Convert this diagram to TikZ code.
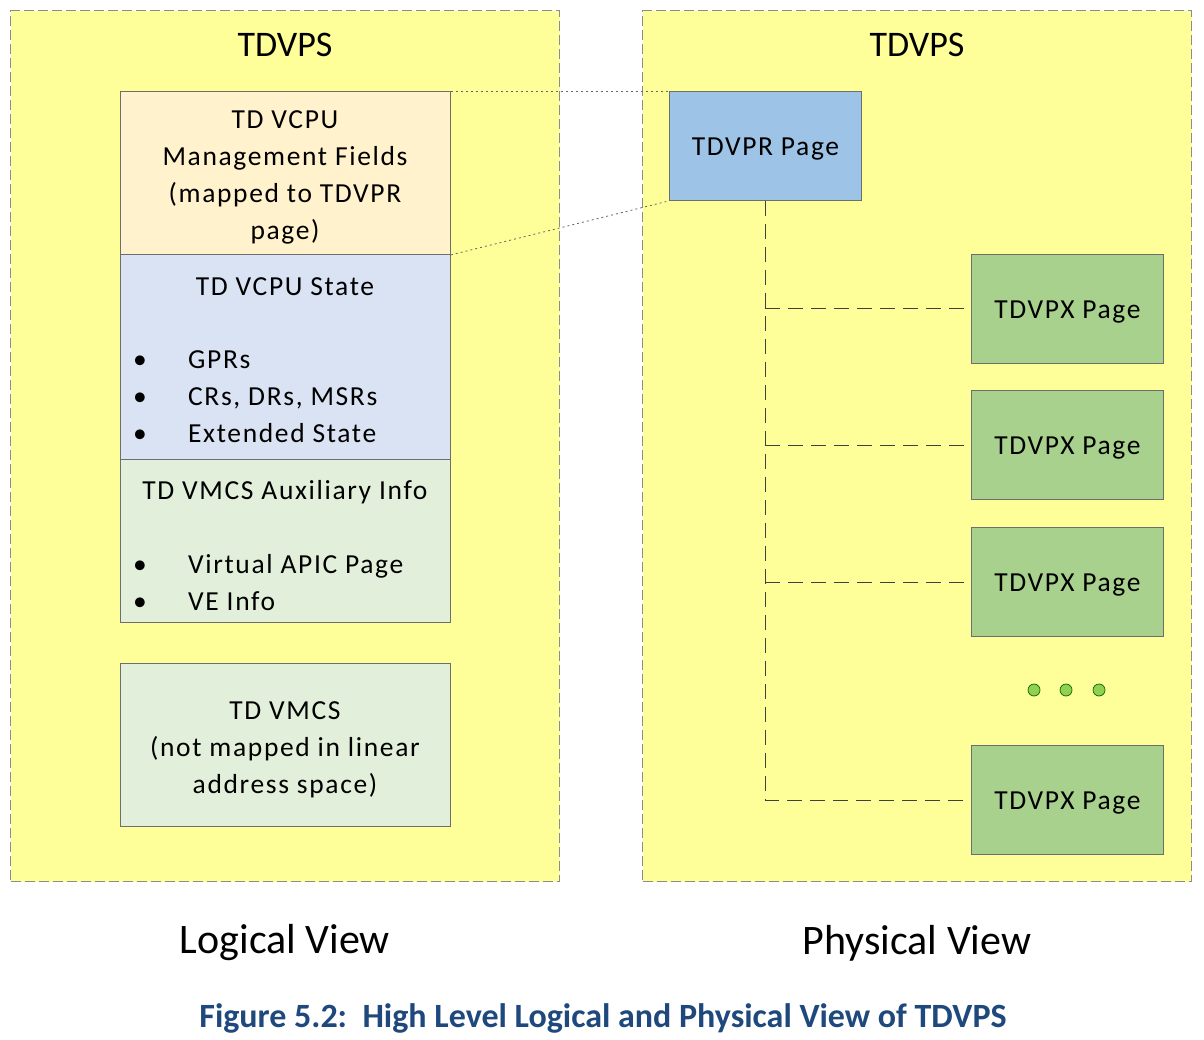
\documentclass[tikz,border=0pt]{standalone}
\usepackage{fontspec}
\setmainfont{Carlito}
\newfontfamily\boxfont[LetterSpace=6]{Carlito}
\definecolor{tdyellow}{HTML}{FFFF99}
\definecolor{contline}{HTML}{8C8C8C}
\definecolor{boxline}{HTML}{6E6E6E}
\definecolor{cmgmt}{HTML}{FFF2CC}
\definecolor{cstate}{HTML}{DAE3F3}
\definecolor{caux}{HTML}{E2EFDA}
\definecolor{ctdvpr}{HTML}{9DC3E6}
\definecolor{ctdvpx}{HTML}{A9D18E}
\definecolor{cdot}{HTML}{92D050}
\definecolor{capblue}{HTML}{1F497D}
\begin{document}
\begin{tikzpicture}[x=1pt,y=-1pt,
  cont/.style={draw=contline, line width=1.2pt, dash pattern=on 10pt off 4pt, fill=tdyellow, anchor=north west, inner sep=0pt, minimum width=549pt, minimum height=871pt},
  pbox/.style={draw=boxline, line width=0.9pt, anchor=north west, inner sep=0pt},
  btext/.style={font=\boxfont\fontsize{27.5}{37}\selectfont, inner sep=0pt},
  ltext/.style={btext, anchor=west, text height=19pt, text depth=6pt},
  bul/.style={btext, text height=19pt, text depth=6pt},
  ttl/.style={font=\fontsize{36}{40}\selectfont, inner sep=0pt},
  view/.style={font=\fontsize{42}{48}\selectfont, inner sep=0pt},
  conn/.style={draw=black!75, line width=0.9pt, dash pattern=on 15pt off 8pt},
  dotl/.style={draw=black!60, line width=0.8pt, dash pattern=on 2pt off 3pt},
  pgtext/.style={font=\boxfont\fontsize{27.5}{32}\selectfont, text height=24pt, text depth=4pt},
  pg/.style={pbox, fill=ctdvpx, minimum width=192pt, minimum height=109pt, pgtext},
  gdot/.style={circle, draw=black!60!green, line width=0.7pt, fill=cdot, minimum size=12pt, inner sep=0pt}
]
\useasboundingbox[fill=white] (0,0) rectangle (1204,1040);

% containers
\node[cont] (lcont) at (10,10) {};
\node[cont] (pcont) at (642,10) {};
\node[ttl] (ltitle) at (285,45) {TDVPS};
\node[ttl] (ptitle) at (917,45) {TDVPS};

% logical view boxes
\node[pbox, fill=cmgmt, minimum width=330pt, minimum height=163pt] (mgmt) at (120,91) {};
\node[btext, align=center] (mgmtt) at (285,177) {TD VCPU\\Management Fields\\(mapped to TDVPR\\page)};

\node[pbox, fill=cstate, minimum width=330pt, minimum height=205pt] (state) at (120,254) {};
\node[bul] (statet) at (285,289) {TD VCPU State};
\node[bul] (sb1) at (140,362) {•};
\node[ltext] (si1) at (188,362) {GPRs};
\node[bul] (sb2) at (140,399) {•};
\node[ltext] (si2) at (188,399) {CRs, DRs, MSRs};
\node[bul] (sb3) at (140,436) {•};
\node[ltext] (si3) at (188,436) {Extended State};

\node[pbox, fill=caux, minimum width=330pt, minimum height=163pt] (aux) at (120,459) {};
\node[bul] (auxt) at (285,493) {TD VMCS Auxiliary Info};
\node[bul] (ab1) at (140,567) {•};
\node[ltext] (ai1) at (188,567) {Virtual APIC Page};
\node[bul] (ab2) at (140,604) {•};
\node[ltext] (ai2) at (188,604) {VE Info};

\node[pbox, fill=caux, minimum width=330pt, minimum height=163pt] (vmcs) at (120,663) {};
\node[btext, align=center] (vmcst) at (285,750) {TD VMCS\\(not mapped in linear\\address space)};

% physical view
\node[pbox, fill=ctdvpr, minimum width=192pt, minimum height=109pt, pgtext] (tdvpr) at (669,91) {TDVPR Page};
\node[pg] (px1) at (971,254) {TDVPX Page};
\node[pg] (px2) at (971,390) {TDVPX Page};
\node[pg] (px3) at (971,527) {TDVPX Page};
\node[pg] (px4) at (971,745) {TDVPX Page};

\node[gdot] (d1) at (1034,690) {};
\node[gdot] (d2) at (1066,690) {};
\node[gdot] (d3) at (1099,690) {};

\draw[conn] (tdvpr.south) -- (tdvpr.south |- px4.west) -- (px4.west);
\draw[conn] (tdvpr.south |- px1.west) -- (px1.west);
\draw[conn] (tdvpr.south |- px2.west) -- (px2.west);
\draw[conn] (tdvpr.south |- px3.west) -- (px3.west);

\draw[dotl] (mgmt.north east) -- (tdvpr.north west);
\draw[dotl] (mgmt.south east) -- (tdvpr.south west);

% labels
\node[view] (lview) at (285,943) {Logical View};
\node[view] (pview) at (917,943) {Physical View};
\node[font=\bfseries\fontsize{34}{40}\selectfont, text=capblue, inner sep=0pt] (cap) at (603,1018) {Figure 5.2:\ \ High Level Logical and Physical View of TDVPS};
\end{tikzpicture}
\end{document}
